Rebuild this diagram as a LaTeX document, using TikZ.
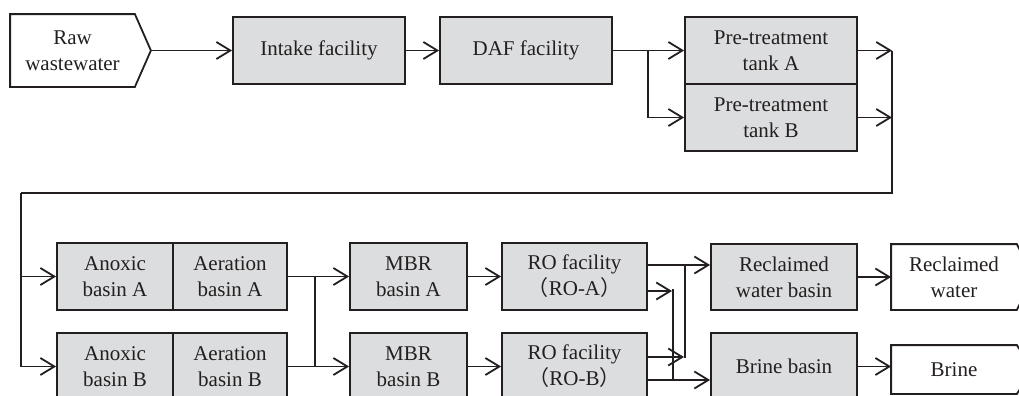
\documentclass[tikz,border=0pt]{standalone}
\usepackage{fontspec}
\setmainfont{Liberation Serif}
\newfontfamily\cjk[RawFeature=+halt]{Noto Sans CJK SC}
\usetikzlibrary{arrows.meta}
\definecolor{cline}{HTML}{231F20}
\definecolor{cbox}{HTML}{DCDDDE}
\tikzset{
  unit/.style={draw=cline, fill=cbox, line width=0.9pt, align=center, inner sep=0pt,
    minimum height=33.5pt, text=cline, font=\fontsize{10.5}{13}\selectfont},
  tag/.style={unit, draw=none, fill=none},
  pipe/.style={draw=cline, line width=0.9pt},
  flow/.style={pipe, -{Straight Barb[length=7pt,width=8.5pt]}},
}

\begin{document}
\begin{tikzpicture}[x=0.5pt, y=-0.5pt]
  \fill[white] (0,0) rectangle (1019,396);
  \useasboundingbox (0,0) rectangle (1019,396);
  \clip (0,0) rectangle (1019,396);

  % top row
  \node[tag, minimum width=61.5pt, minimum height=35.5pt] (raw) at (72.5,50.5) {Raw\\wastewater};
  \node[unit, minimum width=86pt] (intake) at (319,50.5) {Intake facility};
  \node[unit, minimum width=86pt] (daf) at (526,50.5) {DAF facility};
  \node[unit, minimum width=86pt] (preA) at (771,50.5) {Pre-treatment\\tank A};
  \node[unit, minimum width=86pt] (preB) at (771,117.5) {Pre-treatment\\tank B};

  % bottom rows
  \node[unit, minimum width=58pt] (anoxA) at (115,276.5) {Anoxic\\basin A};
  \node[unit, minimum width=57pt] (aerA) at (230,276.5) {Aeration\\basin A};
  \node[unit, minimum width=58pt] (anoxB) at (115,366.5) {Anoxic\\basin B};
  \node[unit, minimum width=57pt] (aerB) at (230,366.5) {Aeration\\basin B};
  \node[unit, minimum width=58.5pt] (mbrA) at (408.5,276.5) {MBR\\basin A};
  \node[unit, minimum width=58.5pt] (mbrB) at (408.5,366.5) {MBR\\basin B};
  \node[unit, minimum width=72.5pt] (roA) at (574.5,276.5) {RO facility\\{\cjk （}RO-A{\cjk ）}};
  \node[unit, minimum width=72.5pt] (roB) at (574.5,366.5) {RO facility\\{\cjk （}RO-B{\cjk ）}};
  \node[unit, minimum width=73pt, minimum height=33pt] (reclbasin) at (784,277) {Reclaimed\\water basin};
  \node[unit, minimum width=73pt] (brinebasin) at (784,366.5) {Brine basin};
  \node[tag, minimum width=62pt, minimum height=32pt] (reclw) at (954,277) {Reclaimed\\water};
  \node[tag, minimum width=62pt, minimum height=23.5pt] (brine) at (954,369.5) {Brine};

  % pointed outlines
  \foreach \n in {raw,reclw,brine}
    \draw[pipe] (\n.north west) -- (\n.north east) -- ([xshift=8pt]\n.east)
      -- (\n.south east) -- (\n.south west) -- cycle;

  \coordinate (j1) at (648,50.5);
  \coordinate (j2) at (892,50.5);
  \coordinate (j3) at (892,193);
  \coordinate (j4) at (21,193);
  \coordinate (j5) at (315,276.5);

  \draw[flow] ([xshift=8pt]raw.east) -- (intake);
  \draw[flow] (intake) -- (daf);
  \draw[flow] (daf) -- (preA);
  \draw[flow] (j1) |- (preB.west);
  \draw[flow] (preA.east) -- (preA.east -| j2);
  \draw[flow] (preB.east) -- (preB.east -| j2);
  \draw[pipe] (j2) -- (j3) -- (j4);
  \draw[flow] (j4) |- (anoxB.west);
  \draw[flow] (anoxA.west -| j4) -- (anoxA.west);

  \draw[flow] (aerA) -- (mbrA);
  \draw[flow] (aerB) -- (mbrB);
  \draw[pipe] (aerA.east -| j5) -- (aerB.east -| j5);
  \draw[flow] (mbrA) -- (roA);
  \draw[flow] (mbrB) -- (roB);

  % permeate and concentrate lines
  \draw[flow] (roA.east |- 0,265) -- (reclbasin.west |- 0,265);
  \draw[flow] (roA.east |- 0,291) -- (672,291);
  \draw[pipe] (673,289) -- (673,380);
  \draw[flow] (roB.east |- 0,357) -- (684,357);
  \draw[pipe] (685,265) -- (685,358);
  \draw[flow] (roB.east |- 0,380) -- (brinebasin.west |- 0,380);

  \draw[flow] (reclbasin) -- (reclw);
  \draw[flow] (brinebasin.east) -- (brinebasin.east -| brine.west);
\end{tikzpicture}
\end{document}
